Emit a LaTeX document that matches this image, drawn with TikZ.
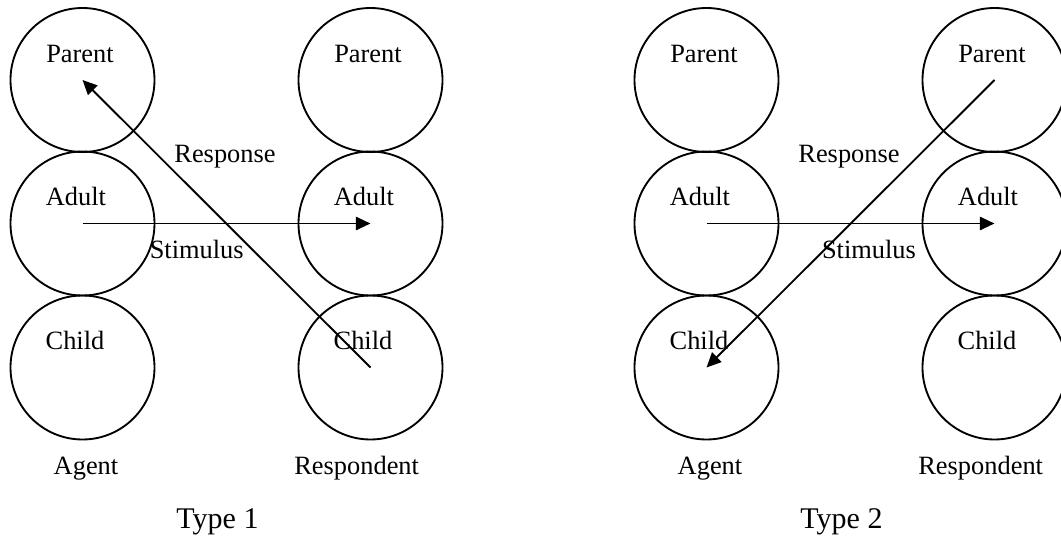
\documentclass[tikz,border=0pt]{standalone}
\usepackage{fontspec}
\setmainfont{Liberation Serif}
\usetikzlibrary{arrows.meta}

\begin{document}
\begin{tikzpicture}[x=0.75pt,y=-0.75pt]
            \tikzset{ego/.style = {draw, circle, line width=1.4pt, minimum size=108pt, inner sep=0pt}}
            \tikzset{role/.style = {anchor=base, inner sep=0pt, font=\fontsize{19.8}{24}\selectfont}}
            \tikzset{title/.style = {anchor=base, inner sep=0pt, font=\fontsize{22.5}{27}\selectfont}}
            \tikzset{edge/.style = {-{Triangle[length=11pt,width=10pt]}, line width=1.4pt}}
            \useasboundingbox (0,0) rectangle (1061,538);

            % ego states
            \foreach \t/\dx in {1/0,2/624}
            {
              \foreach \s/\y/\txt/\off in {P/80/Parent/-2.5,A/223.5/Adult/-6.5,C/367.5/Child/-7.5}
              {
                \node[ego] (a\s\t) at (82.5+\dx,\y) {};
                \node[ego] (r\s\t) at (370.5+\dx,\y) {};
                \node[role] (la\s\t) at (82.5+\dx+\off,\y-17.5) {\txt};
                \node[role] (lr\s\t) at (370.5+\dx+\off,\y-17.5) {\txt};
              }
              \node[role] (ag\t) at (86+\dx,474.5) {Agent};
              \node[role] (re\t) at (356.7+\dx,474.5) {Respondent};
              \node[role] (resp\t) at (225+\dx,162.7) {Response};
              \node[title] (ty\t) at (217.5+\dx,528.3) {Type \t};
            }
            \node[role] (stim1) at (196.7,258.3) {Stimulus};
            \node[role] (stim2) at (869,258.3) {Stimulus};

            % transactions
            \draw[edge] (aA1.center) -- (rA1.center);
            \draw[edge] (rC1.center) -- (aP1.center);
            \draw[edge] (aA2.center) -- (rA2.center);
            \draw[edge] (rP2.center) -- (aC2.center);

          \end{tikzpicture}
\end{document}
